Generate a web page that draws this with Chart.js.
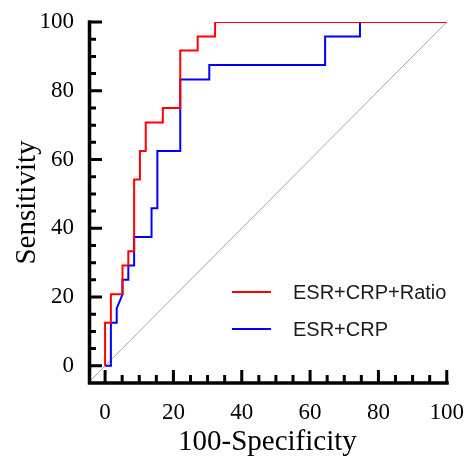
<!DOCTYPE html>
<html><head><meta charset="utf-8">
<script src="https://cdn.jsdelivr.net/npm/chart.js@4/dist/chart.umd.min.js"></script>
<style>html,body{margin:0;padding:0;background:#fff}canvas{display:block}</style>
</head><body>
<canvas id="c" width="472" height="457"></canvas>
<script>
// ROC curve coordinates (100-Specificity, Sensitivity)
const seriesNames = ['ESR+CRP+Ratio', 'ESR+CRP'];
const ratioX = [0, 0, 1.7, 1.7, 5.1, 5.1, 6.8, 6.8, 8.5, 8.5, 10.2, 10.2, 11.9, 11.9, 16.9, 16.9, 22.0, 22.0, 27.1, 27.1, 32.2, 32.2, 100];
const ratioY = [0, 12.5, 12.5, 20.8, 20.8, 29.2, 29.2, 33.3, 33.3, 54.2, 54.2, 62.5, 62.5, 70.8, 70.8, 75, 75, 91.7, 91.7, 95.8, 95.8, 100, 100];
const esrX = [0, 1.7, 1.7, 3.4, 3.4, 5.1, 5.1, 6.8, 6.8, 8.5, 8.5, 13.6, 13.6, 15.3, 15.3, 22.0, 22.0, 30.5, 30.5, 64.4, 64.4, 74.6, 74.6, 100];
const esrY = [0, 0, 12.5, 12.5, 16.7, 20.8, 25, 25, 29.2, 29.2, 37.5, 37.5, 45.8, 45.8, 62.5, 62.5, 83.3, 83.3, 87.5, 87.5, 95.8, 95.8, 100, 100];
const refX = [-5, 100];
const refY = [-5, 100];
const xTickValues = [0, 20, 40, 60, 80, 100];
const yTickValues = [0, 20, 40, 60, 80, 100];
const minorStep = 5;
const axisMin = -5, axisMax = 100;

const pts = (xs, ys) => xs.map((v, i) => ({x: v, y: ys[i]}));

const axesPlugin = {
  id: 'prismAxes',
  afterDatasetsDraw(chart) {
    const {ctx, scales: {x, y}} = chart;
    const x0 = x.getPixelForValue(axisMin), xE = x.getPixelForValue(axisMax);
    const y0 = y.getPixelForValue(axisMin), yE = y.getPixelForValue(axisMax);
    ctx.save();
    ctx.strokeStyle = '#000';
    ctx.lineWidth = 3.5;
    ctx.lineCap = 'butt';
    ctx.beginPath();
    ctx.moveTo(x0 + 1.5, yE - 1.5); ctx.lineTo(x0 + 1.5, y0 + 1.5);
    ctx.moveTo(x0, y0); ctx.lineTo(xE + 2, y0);
    ctx.stroke();
    ctx.lineWidth = 3;
    ctx.beginPath();
    for (let v = 0; v <= axisMax; v += minorStep) {
      const px = x.getPixelForValue(v);
      const lx = xTickValues.includes(v) ? 13 : 8;
      ctx.moveTo(px, y0); ctx.lineTo(px, y0 - lx);
      const py = y.getPixelForValue(v);
      const ly = yTickValues.includes(v) ? 14 : 8;
      ctx.moveTo(x0, py); ctx.lineTo(x0 + ly, py);
    }
    ctx.stroke();
    ctx.restore();
  }
};

const legendPlugin = {
  id: 'insideLegend',
  afterDatasetsDraw(chart) {
    const {ctx, chartArea} = chart;
    ctx.save();
    ctx.font = '20px "Liberation Sans", Arial, sans-serif';
    ctx.textBaseline = 'middle';
    ctx.textAlign = 'left';
    [0, 1].forEach((i, k) => {
      const ds = chart.data.datasets[i];
      const yy = chartArea.top + 270 + k * 37;
      const xx = chartArea.left + 144;
      ctx.strokeStyle = ds.borderColor;
      ctx.lineWidth = 1.8;
      ctx.beginPath(); ctx.moveTo(xx, yy); ctx.lineTo(xx + 39, yy); ctx.stroke();
      ctx.fillStyle = '#1a1a1a';
      ctx.fillText(ds.label, xx + 61, yy + 1);
    });
    ctx.restore();
  }
};

new Chart(document.getElementById('c'), {
  type: 'line',
  data: {
    datasets: [
      {label: seriesNames[0], data: pts(ratioX, ratioY), borderColor: '#ff0000', borderWidth: 2, pointRadius: 0, fill: false, tension: 0},
      {label: seriesNames[1], data: pts(esrX, esrY), borderColor: '#0000ff', borderWidth: 2, pointRadius: 0, fill: false, tension: 0},
      {label: 'ref', data: pts(refX, refY), borderColor: '#a6a6a6', borderWidth: 1, pointRadius: 0, fill: false, tension: 0}
    ]
  },
  options: {
    responsive: false,
    animation: false,
    events: [],
    layout: {padding: {top: 22, right: 23, left: 0, bottom: 0}},
    plugins: {legend: {display: false}, tooltip: {enabled: false}},
    scales: {
      x: {
        type: 'linear', min: axisMin, max: axisMax,
        grid: {display: false}, border: {display: false},
        afterBuildTicks: s => { s.ticks = xTickValues.map(v => ({value: v})); },
        afterFit: s => { s.height = 74; },
        ticks: {color: '#000', padding: 8, maxRotation: 0, font: {family: '"Liberation Serif", "Times New Roman", serif', size: 23}},
        title: {display: true, text: '100-Specificity', color: '#000', padding: {top: 0, bottom: 0},
                font: {family: '"Liberation Serif", "Times New Roman", serif', size: 29, lineHeight: 1}}
      },
      y: {
        type: 'linear', min: axisMin, max: axisMax,
        grid: {display: false}, border: {display: false},
        afterBuildTicks: s => { s.ticks = yTickValues.map(v => ({value: v})); },
        afterFit: s => { s.width = 88; },
        ticks: {color: '#000', padding: 6, font: {family: '"Liberation Serif", "Times New Roman", serif', size: 23}},
        title: {display: true, text: 'Sensitivity', color: '#000', padding: {top: 13, bottom: 0},
                font: {family: '"Liberation Serif", "Times New Roman", serif', size: 29, lineHeight: 1}}
      }
    }
  },
  plugins: [axesPlugin, legendPlugin]
});
</script>
</body></html>
